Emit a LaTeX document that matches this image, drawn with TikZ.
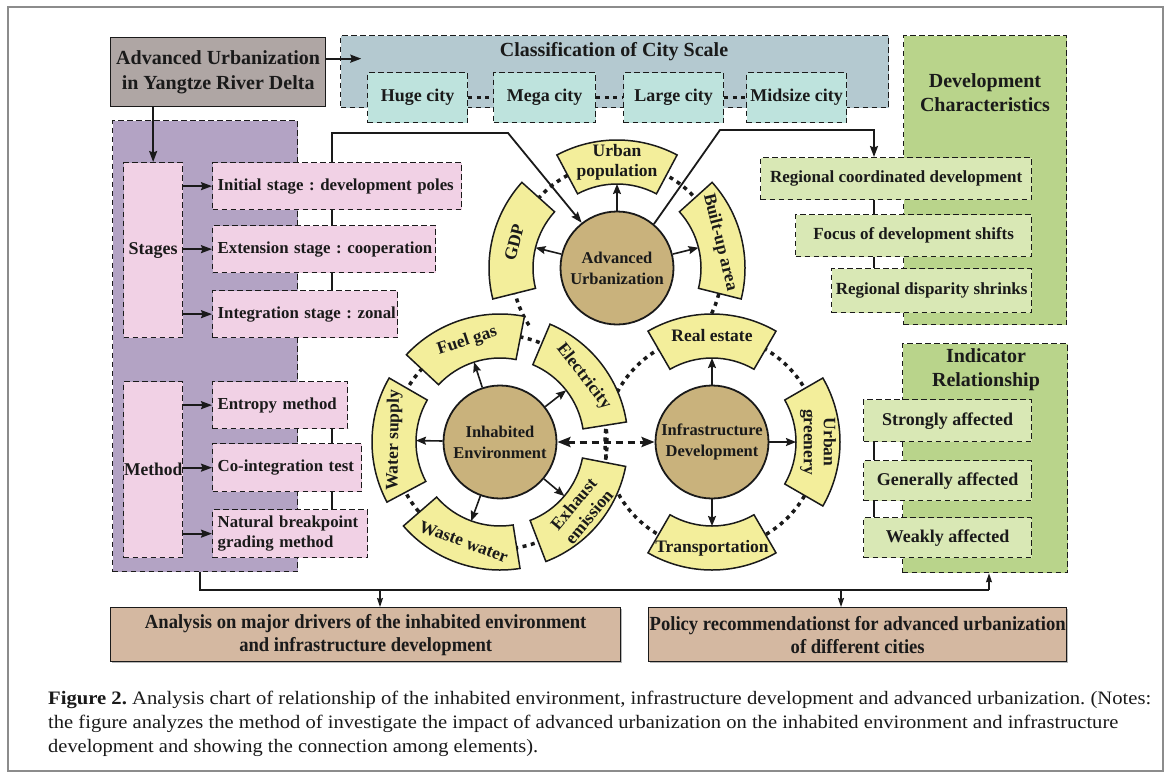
\documentclass[tikz,border=0pt]{standalone}
\usepackage{graphicx}
\usepackage{fontspec}
\setmainfont{Liberation Serif}
\usetikzlibrary{calc,arrows.meta,shadows}
\frenchspacing
\definecolor{uagray}{HTML}{AFA6A4}
\definecolor{clsblue}{HTML}{B4C9D0}
\definecolor{citycol}{HTML}{BEE3DD}
\definecolor{purp}{HTML}{B3A3C4}
\definecolor{pnk}{HTML}{F1D1E5}
\definecolor{gdark}{HTML}{B9D48B}
\definecolor{glight}{HTML}{D9E8B5}
\definecolor{yel}{HTML}{F3EE9B}
\definecolor{tanc}{HTML}{C9B27C}
\definecolor{tanb}{HTML}{D4B8A1}
\definecolor{ink}{HTML}{1A1A1A}
\newcommand\fs[2]{\fontsize{#1}{#2}\selectfont}
\newcommand\mysector[6]{%
  \filldraw[sectst] ($(#1)+(#2:128)$) arc[start angle=#2, end angle=#3, radius=128]
     -- ($(#1)+(#3:84)$) arc[start angle=#3, end angle=#2, radius=84] -- cycle;
  \node[secttext, rotate=#5] (#4) at ($(#1)+({(#2+#3)/2}:106)$) {#6};
  \coordinate (#4-in) at ($(#1)+({(#2+#3)/2}:84)$);
}
\tikzset{
  dbox/.style={draw=ink, line width=1.3pt, dash pattern=on 5.5pt off 3.5pt, inner sep=0pt, anchor=north west, text=ink},
  pinkl/.style={dbox, fill=pnk, inner xsep=5pt, align=left, font={\fs{16.8}{19.5}\bfseries}},
  greenl/.style={dbox, fill=glight, align=center, font={\fs{17}{20}\bfseries}},
  conn/.style={draw=ink, line width=1.8pt},
  arr/.style={conn, -{Stealth[length=11pt,width=8pt,inset=1.5pt]}},
  thinconn/.style={draw=ink, line width=1.3pt},
  thinarr/.style={thinconn, -{Stealth[length=9pt,width=6pt,inset=1pt]}},
  sarr/.style={draw=ink, line width=1.6pt, -{Stealth[length=10pt,width=8pt,inset=1.5pt]}},
  darr/.style={draw=ink, line width=3pt, dash pattern=on 7pt off 5pt,
     {Stealth[length=13pt,width=10pt,inset=2pt]}-{Stealth[length=13pt,width=10pt,inset=2pt]}},
  dots/.style={draw=ink, line width=3.5pt, dash pattern=on 4pt off 4.5pt},
  sectst/.style={fill=yel, draw=ink, line width=1.5pt},
  secttext/.style={font={\fs{17.5}{20}\bfseries}, align=center, text=ink, inner sep=0pt},
  circ/.style={circle, draw=ink, line width=1.8pt, fill=tanc, minimum size=113pt, inner sep=0pt,
     align=center, font={\fs{16.5}{21}\bfseries}, text=ink},
  ttl/.style={font={\fs{20}{24}\bfseries}, align=center, text=ink, inner sep=0pt},
}
\begin{document}
\begin{tikzpicture}[x=1pt,y=1pt]
\useasboundingbox (0,0) rectangle (1170,-780);
\fill[white] (0,0) rectangle (1170,-780);
\draw[line width=1.2pt, draw=black!45] (8,-7) rectangle (1163,-771);

% left purple group
\node[dbox, fill=purp, minimum width=185pt, minimum height=451pt] (pur) at (112,-120) {};
% classification
\node[dbox, fill=clsblue, minimum width=548pt, minimum height=72pt] (cls) at (340,-35) {};
\node[ttl] (clst) at (614,-52) {Classification of City Scale};
\node[dbox, fill=citycol, minimum width=100pt, minimum height=50pt, font={\fs{18}{21}\bfseries}] (huge) at (367,-72) {Huge city};
\node[dbox, fill=citycol, minimum width=102pt, minimum height=50pt, font={\fs{18}{21}\bfseries}] (mega) at (493,-72) {Mega city};
\node[dbox, fill=citycol, minimum width=100pt, minimum height=50pt, font={\fs{18}{21}\bfseries}] (large) at (623,-72) {Large city};
\node[dbox, fill=citycol, minimum width=100pt, minimum height=50pt, font={\fs{18}{21}\bfseries}] (midc) at (746,-72) {Midsize city};
\draw[dots] (huge.east) -- (mega.west);
\draw[dots] (mega.east) -- (large.west);
\draw[dots] (large.east) -- (midc.west);

% top-left source box
\node[draw=ink, line width=1.3pt, fill=uagray, minimum width=215pt, minimum height=69pt, anchor=north west,
  inner sep=0pt, align=center, font={\fs{20}{25}\bfseries}, text=ink] (ua) at (110,-37)
  {Advanced Urbanization\\in Yangtze River Delta};

% stages
\node[dbox, fill=pnk, minimum width=59pt, minimum height=175pt, font={\fs{18}{20}\bfseries}] (stg) at (123,-162) {Stages};
\node[pinkl, minimum height=47pt, text width=239pt] (init) at (212,-162) {\mbox{Initial stage : development poles}};
\node[pinkl, minimum height=47pt, text width=213pt] (ext) at (212,-225) {\mbox{Extension stage : cooperation}};
\node[pinkl, minimum height=47pt, text width=175pt] (integ) at (212,-290) {\mbox{Integration stage : zonal}};
% methods
\node[dbox, fill=pnk, minimum width=59pt, minimum height=176pt, font={\fs{18}{20}\bfseries}] (mth) at (123,-381) {\scalebox{0.97}[1]{Method}};
\node[pinkl, minimum height=47pt, text width=125pt] (entropy) at (212,-381) {\mbox{Entropy method}};
\node[pinkl, minimum height=48pt, text width=139pt] (coint) at (212,-443) {\mbox{Co-integration test}};
\node[pinkl, minimum height=48pt, text width=145pt] (natural) at (212,-509) {\mbox{Natural breakpoint}\\\mbox{grading method}};

% development characteristics
\node[dbox, fill=gdark, minimum width=163pt, minimum height=289pt] (dev) at (903,-35) {};
\node[ttl] (devt) at (985,-93) {Development\\Characteristics};
\node[greenl, minimum width=271pt, minimum height=42pt] (reg) at (760,-157) {Regional coordinated development};
\node[greenl, minimum width=236pt, minimum height=42pt] (focus) at (795,-214) {Focus of development shifts};
\node[greenl, minimum width=200pt, minimum height=44pt] (disp) at (831,-268) {Regional disparity shrinks};
% indicator relationship
\node[dbox, fill=gdark, minimum width=165pt, minimum height=229pt] (ind) at (902,-343) {};
\node[ttl] (indt) at (986,-370) {Indicator\\Relationship};
\node[greenl, minimum width=168pt, minimum height=42pt, font={\fs{18}{21}\bfseries}] (strong) at (863,-399) {Strongly affected};
\node[greenl, minimum width=168pt, minimum height=40pt, font={\fs{18}{21}\bfseries}] (gen) at (863,-460) {Generally affected};
\node[greenl, minimum width=168pt, minimum height=40pt, font={\fs{18}{21}\bfseries}] (weak) at (863,-517) {Weakly affected};

% bottom boxes
\node[draw=ink, line width=1.4pt, fill=tanb, minimum width=510pt, minimum height=54pt, anchor=north west,
  inner sep=0pt, align=center, font={\fs{20}{23}\bfseries}, text=ink,
  drop shadow={shadow xshift=1.5pt, shadow yshift=-1.5pt, fill=black!55}] (an1) at (110,-607)
  {\scalebox{0.93}[1]{Analysis on major drivers of the inhabited environment}\\\scalebox{0.93}[1]{and infrastructure development}};
\node[draw=ink, line width=1.4pt, fill=tanb, minimum width=418pt, minimum height=54pt, anchor=north west,
  inner sep=0pt, align=center, font={\fs{20}{23}\bfseries}, text=ink,
  drop shadow={shadow xshift=1.5pt, shadow yshift=-1.5pt, fill=black!55}] (an2) at (648,-607)
  {\scalebox{0.93}[1]{Policy recommendationst for advanced urbanization}\\\scalebox{0.93}[1]{of different cities}};

% circle centres
\coordinate (cA) at (617,-268);
\coordinate (cI) at (500,-442);
\coordinate (cF) at (712,-442);

% dotted rings
\draw[dots] ($(cA)+(-35:105)$) arc[start angle=-35, end angle=215, radius=105];
\draw[dots] (cI) circle[radius=107];
\draw[dots] (cF) circle[radius=107];

% sectors
\mysector{cA}{62}{118}{upop}{0}{Urban\\population}
\mysector{cA}{138}{194}{gdp}{76}{GDP}
\mysector{cA}{-14}{42}{bua}{-76}{Built-up area}
\mysector{cI}{9}{67}{elec}{-52}{Electricity}
\mysector{cI}{79}{137}{fuel}{18}{Fuel gas}
\mysector{cI}{150}{208}{water}{89}{Water supply}
\mysector{cI}{221}{279}{waste}{-20}{Waste water}
\mysector{cI}{291}{349}{exh}{50}{Exhaust\\emission}
\mysector{cF}{60}{120}{real}{0}{Real estate}
\mysector{cF}{-30}{30}{grn}{-90}{Urban\\greenery}
\mysector{cF}{240}{300}{trans}{0}{Transportation}

% circles
\node[circ] (adv) at (cA) {Advanced\\Urbanization};
\node[circ] (inh) at (cI) {Inhabited\\Environment};
\node[circ] (inf) at (cF) {Infrastructure\\Development};

% circle -> sector arrows
\draw[sarr] (adv.90) -- (upop-in);
\draw[sarr] (adv.166) -- (gdp-in);
\draw[sarr] (adv.14) -- (bua-in);
\draw[sarr] (inh.38) -- (elec-in);
\draw[sarr] (inh.108) -- (fuel-in);
\draw[sarr] (inh.179) -- (water-in);
\draw[sarr] (inh.250) -- (waste-in);
\draw[sarr] (inh.320) -- (exh-in);
\draw[sarr] (inf.90) -- (real-in);
\draw[sarr] (inf.0) -- (grn-in);
\draw[sarr] (inf.270) -- (trans-in);
\draw[darr] (inh.east) -- (inf.west);

% connectors
\draw[arr] ([yshift=13.5pt]ua.east) -- ++(35pt,0);
\draw[arr] (stg.north |- ua.south) -- (stg.north);
\foreach \n in {init,ext,integ} \draw[arr] (stg.east |- \n.west) -- (\n.west);
\foreach \n in {entropy,coint,natural} \draw[arr] (mth.east |- \n.west) -- (\n.west);
\coordinate (p1) at ($(init.south west)+(120pt,0)$);
\draw[conn] (p1) -- (p1 |- ext.north);
\draw[conn] (p1 |- ext.south) -- (p1 |- integ.north);
\draw[conn] (p1 |- entropy.south) -- (p1 |- coint.north);
\draw[conn] (p1 |- coint.south) -- (p1 |- natural.north);
\coordinate (k1) at (508,-133);
\draw[arr] (p1 |- init.north) |- (k1) -- (adv.128);
\coordinate (g1) at ($(reg.south west)+(114pt,0)$);
\coordinate (k2) at (720,-130);
\draw[arr] (adv.50) -- (k2) -| (g1 |- reg.north);
\draw[conn] (g1) -- (g1 |- focus.north);
\draw[conn] (g1 |- focus.south) -- (g1 |- disp.north);
\coordinate (g2) at ($(strong.south west)+(11pt,0)$);
\draw[conn] (g2) -- (g2 |- gen.north);
\draw[conn] (g2 |- gen.south) -- (g2 |- weak.north);

% bottom connectors
\coordinate (b1) at (200,-590);
\coordinate (b2) at (989,-590);
\coordinate (b3) at (380,-590);
\coordinate (b4) at (841,-590);
\draw[thinconn] (b1 |- pur.south) -- (b1) -- (b2);
\draw[thinarr] (b2) -- (b2 |- ind.south);
\draw[thinarr] (b3) -- (b3 |- an1.north);
\draw[thinarr] (b4) -- (b4 |- an2.north);

% caption
\node[anchor=base west, inner sep=0pt, font={\fs{19}{24}}, text=ink] (cap1) at (48,-704)
  {\resizebox{1103pt}{\height}{\textbf{Figure 2.} Analysis chart of relationship of the inhabited environment, infrastructure development and advanced urbanization. (Notes:}};
\node[anchor=base west, inner sep=0pt, font={\fs{19}{24}}, text=ink] (cap2) at (48,-728)
  {\resizebox{1070pt}{\height}{the figure analyzes the method of investigate the impact of advanced urbanization on the inhabited environment and infrastructure}};
\node[anchor=base west, inner sep=0pt, font={\fs{19}{24}}, text=ink] (cap3) at (48,-752)
  {\resizebox{490pt}{\height}{development and showing the connection among elements).}};
\end{tikzpicture}
\end{document}
